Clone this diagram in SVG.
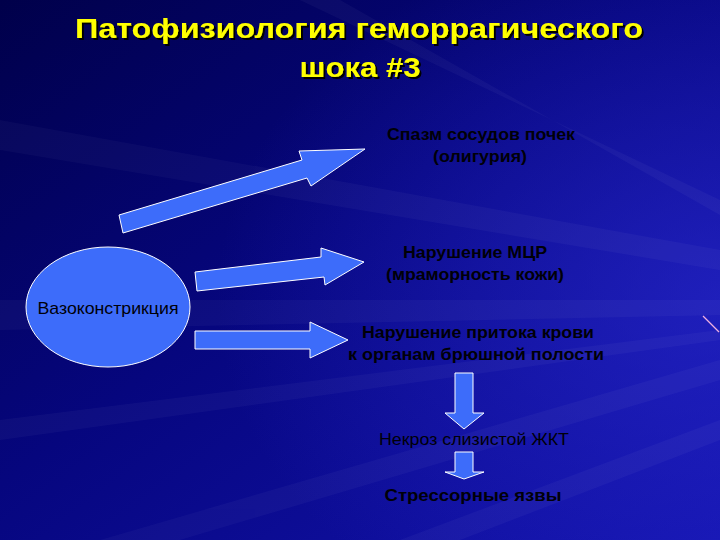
<svg xmlns="http://www.w3.org/2000/svg" width="720" height="540" viewBox="0 0 720 540">
<defs>
<linearGradient id="bg" x1="0" y1="0" x2="1" y2="1">
<stop offset="0" stop-color="#00004a"/>
<stop offset="0.45" stop-color="#06067e"/>
<stop offset="1" stop-color="#1414b0"/>
</linearGradient>
<radialGradient id="glow" cx="1" cy="0.55" r="0.7">
<stop offset="0" stop-color="#2a2ad0" stop-opacity="0.6"/>
<stop offset="1" stop-color="#2a2ad0" stop-opacity="0"/>
</radialGradient>
<filter id="sh" x="-5%" y="-20%" width="110%" height="140%">
<feDropShadow dx="2" dy="2" stdDeviation="0.3" flood-color="#000000" flood-opacity="1"/>
</filter>
<style>
.shape{fill:#3d6cfa;stroke:#ffffff;stroke-width:1}
.t{font-family:"Liberation Sans",Arial,sans-serif;fill:#000008;text-anchor:middle;font-size:17px}
.b{font-weight:bold}
.title{font-family:"Liberation Sans",Arial,sans-serif;font-weight:bold;font-size:27px;fill:#ffff00;text-anchor:middle;filter:url(#sh)}
.streak{fill:#ffffff}
</style>
</defs>
<rect width="720" height="540" fill="url(#bg)"/>
<rect width="720" height="540" fill="url(#glow)"/>
<g opacity="0.03">
<polygon class="streak" points="720,250 0,120 0,150 720,270"/>
<polygon class="streak" points="720,300 0,300 0,330 720,315"/>
<polygon class="streak" points="720,360 100,540 180,540 720,380"/>
<polygon class="streak" points="720,420 400,540 460,540 720,440"/>
<polygon class="streak" points="720,200 300,0 340,0 720,215"/>
<polygon class="streak" points="720,330 0,420 0,440 720,340"/>
</g>
<line x1="703" y1="316" x2="719" y2="332" stroke="#f0b0e0" stroke-width="1.2"/>

<g id="title">
<text class="title" x="359" y="38" textLength="568" lengthAdjust="spacingAndGlyphs">Патофизиология геморрагического</text>
<text class="title" x="360" y="77" textLength="121" lengthAdjust="spacingAndGlyphs">шока #3</text>
</g>

<g id="connectors">
<polygon class="shape" points="119,215 302,160 299,151 365,149 311,186 307,178 123,233"/>
<polygon class="shape" points="195,272 321,257 321,248 364,262 325,285 324,277 197,291"/>
<polygon class="shape" points="195,331 310,331 310,322 348,340 310,358 310,349 195,349"/>
<polygon class="shape" points="455,373 473,373 473,413 484,413 464,429 445,413 455,413"/>
<polygon class="shape" points="455,452 473,452 473,472 484,472 464,479 445,472 455,472"/>
</g>

<g id="vasoconstriction">
<ellipse class="shape" cx="108" cy="307" rx="82" ry="60"/>
<text class="t" x="108" y="314" textLength="141" lengthAdjust="spacingAndGlyphs">Вазоконстрикция</text>
</g>

<g id="kidney">
<text class="t b" x="481" y="140" textLength="188" lengthAdjust="spacingAndGlyphs">Спазм сосудов почек</text>
<text class="t b" x="480" y="162" textLength="94" lengthAdjust="spacingAndGlyphs">(олигурия)</text>
</g>

<g id="microcirc">
<text class="t b" x="475" y="258" textLength="144" lengthAdjust="spacingAndGlyphs">Нарушение МЦР</text>
<text class="t b" x="475" y="280" textLength="178" lengthAdjust="spacingAndGlyphs">(мраморность кожи)</text>
</g>

<g id="bloodflow">
<text class="t b" x="478" y="338" textLength="232" lengthAdjust="spacingAndGlyphs">Нарушение притока крови</text>
<text class="t b" x="476" y="360" textLength="256" lengthAdjust="spacingAndGlyphs">к органам брюшной полости</text>
</g>

<g id="necrosis">
<text class="t" x="474" y="445" textLength="190" lengthAdjust="spacingAndGlyphs">Некроз слизистой ЖКТ</text>
</g>

<g id="ulcers">
<text class="t b" x="473" y="501" textLength="177" lengthAdjust="spacingAndGlyphs">Стрессорные язвы</text>
</g>
</svg>
